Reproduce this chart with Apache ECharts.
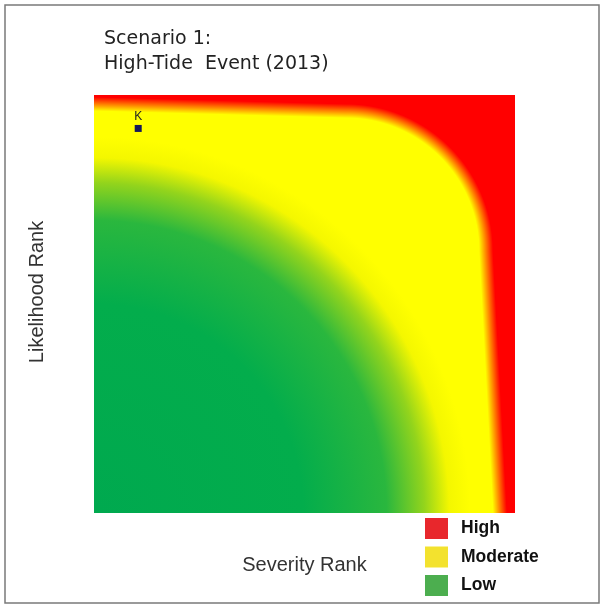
<!DOCTYPE html>
<html>
<head>
<meta charset="utf-8">
<script src="https://cdn.jsdelivr.net/npm/echarts@6/dist/echarts.min.js"></script>
<style>
  html, body { margin: 0; padding: 0; background: #fff; }
  #chart { width: 601px; height: 605px; }
</style>
</head>
<body>
<div id="chart"></div>
<script>
// risk zones shown in the legend
const zones = ['High', 'Moderate', 'Low']
const zoneColors = ['#e8272c', '#f3e22e', '#4cae4f']

// assessed items: severity rank (x) and likelihood rank (y)
const pointNames = ['K']
const severity = [1.05]
const likelihood = [9.2]

const rankMin = 0
const rankMax = 10

// plot area in pixels
const G = { left: 94, top: 95, width: 421, height: 418 }
const right = G.left + G.width
const bottom = G.top + G.height

// red zone edge: top band, rounded corner, right band (all share one soft width)
const soft = 7
const arc = { r: 140, topY: 111, rightX: 486 }
arc.cx = arc.rightX - arc.r
arc.cy = arc.topY + arc.r

const RED = (a) => 'rgba(255,0,0,' + a + ')'

// soft straight edge through (ax, ay) and (bx, by), red on the side given
function band (ax, ay, bx, by, toRight) {
  let dx = bx - ax
  let dy = by - ay
  let len = Math.sqrt(dx * dx + dy * dy)
  let nx = dy / len
  let ny = -dx / len
  if ((toRight && nx < 0) || (!toRight && ny > 0)) {
    nx = -nx
    ny = -ny
  }
  return new echarts.graphic.LinearGradient(
    ax - nx * soft, ay - ny * soft, ax + nx * soft, ay + ny * soft,
    [{ offset: 0, color: RED(0) }, { offset: 0.5, color: RED(0.5) }, { offset: 1, color: RED(1) }],
    true
  )
}

function rect (x, y, w, h, fill) {
  return {
    type: 'rect',
    z: 0,
    silent: true,
    shape: { x: x, y: y, width: w, height: h },
    style: { fill: fill }
  }
}

let chartDom = document.getElementById('chart')
let myChart = echarts.init(chartDom, null, { renderer: 'canvas' })

let baseFill = new echarts.graphic.RadialGradient(0, 1, 1, [
  { offset: 0, color: '#00a94f' },
  { offset: 0.5, color: '#03ad4c' },
  { offset: 0.7, color: '#2ab73e' },
  { offset: 0.79, color: '#93d41c' },
  { offset: 0.85, color: '#f4f700' },
  { offset: 0.9, color: '#ffff00' },
  { offset: 1, color: '#ffff00' }
])

let outer = arc.r + soft
let cornerFill = new echarts.graphic.RadialGradient(arc.cx, arc.cy, outer, [
  { offset: 0, color: RED(0) },
  { offset: (arc.r - soft) / outer, color: RED(0) },
  { offset: arc.r / outer, color: RED(0.5) },
  { offset: 1, color: RED(1) }
], true)

let series = zones.map((z, i) => ({
  name: z,
  type: 'scatter',
  data: [],
  itemStyle: { color: zoneColors[i], opacity: 1 }
}))

series.push({
  name: 'Items',
  type: 'scatter',
  z: 10,
  symbol: 'rect',
  symbolSize: 7,
  itemStyle: { color: '#15185a', opacity: 1 },
  data: pointNames.map((n, i) => ({ name: n, value: [severity[i], likelihood[i]] })),
  label: {
    show: true,
    position: 'top',
    distance: 2,
    formatter: '{b}',
    fontSize: 12,
    color: '#222',
    fontFamily: 'Liberation Sans'
  }
})

let option = {
  animation: false,
  backgroundColor: '#fff',
  title: {
    text: 'Scenario 1:\nHigh-Tide  Event (2013)',
    left: 99,
    top: 22,
    textStyle: {
      fontFamily: 'DejaVu Sans',
      fontWeight: 'normal',
      fontSize: 19,
      lineHeight: 25,
      color: '#222'
    }
  },
  legend: {
    data: zones,
    orient: 'vertical',
    left: 425,
    top: 518,
    padding: 0,
    itemWidth: 23,
    itemHeight: 21,
    itemGap: 7.5,
    icon: 'rect',
    selectedMode: false,
    textStyle: {
      fontFamily: 'Liberation Sans',
      fontWeight: 'bold',
      fontSize: 17.5,
      color: '#111',
      padding: [0, 0, 0, 8]
    }
  },
  grid: { left: G.left, top: G.top, width: G.width, height: G.height, show: false },
  xAxis: {
    type: 'value',
    min: rankMin,
    max: rankMax,
    name: 'Severity Rank',
    nameLocation: 'middle',
    nameGap: 42,
    nameTextStyle: { fontFamily: 'Liberation Sans', fontSize: 20, color: '#333' },
    axisLine: { show: false },
    axisTick: { show: false },
    axisLabel: { show: false },
    splitLine: { show: false }
  },
  yAxis: {
    type: 'value',
    min: rankMin,
    max: rankMax,
    name: 'Likelihood Rank',
    nameLocation: 'middle',
    nameGap: 47,
    nameTextStyle: { fontFamily: 'Liberation Sans', fontSize: 20, color: '#333', padding: [0, 0, 0, 24] },
    axisLine: { show: false },
    axisTick: { show: false },
    axisLabel: { show: false },
    splitLine: { show: false }
  },
  graphic: [
    rect(G.left, G.top, G.width, G.height, baseFill),
    // top red band, left of the rounded corner
    rect(G.left, G.top, arc.cx - G.left, G.height, band(G.left, 104, arc.cx, arc.topY, false)),
    // right red band, below the rounded corner
    rect(arc.cx, arc.cy, right - arc.cx, bottom - arc.cy, band(arc.rightX, arc.cy, 500, bottom, true)),
    // rounded corner
    rect(arc.cx, G.top, right - arc.cx, arc.cy - G.top, cornerFill),
    {
      type: 'rect',
      z: 0,
      silent: true,
      shape: { x: 5, y: 5, width: 594, height: 598 },
      style: { fill: 'none', stroke: '#7a7a7a', lineWidth: 1.5 }
    }
  ],
  series: series
}

myChart.setOption(option)
window.addEventListener('resize', () => myChart.resize())
</script>
</body>
</html>
